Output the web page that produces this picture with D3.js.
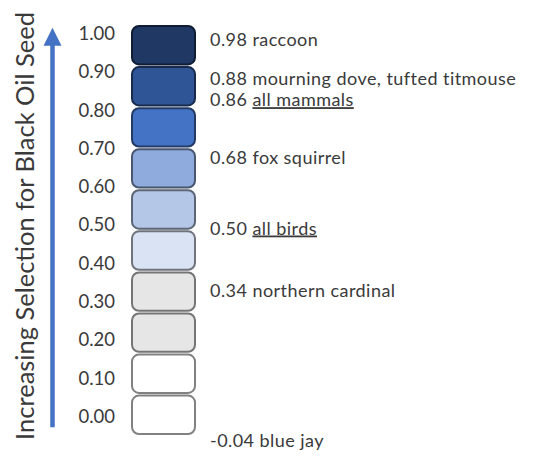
<!DOCTYPE html>
<html>
<head>
<meta charset="utf-8">
<script src="https://cdn.jsdelivr.net/npm/d3@7"></script>
<style>
  body { margin: 0; background: #fff; }
  svg { display: block; font-family: Lato, "Open Sans", sans-serif; }
</style>
</head>
<body>
<svg id="chart" width="536" height="458"></svg>
<script>
// colour bins, top to bottom (lower bound of each 0.1 bin)
const binLows = [0.9, 0.8, 0.7, 0.6, 0.5, 0.4, 0.3, 0.2, 0.1, 0.0];
const binColors = ["#1f3864", "#2f5597", "#4472c4", "#8faadc", "#b4c7e7",
                   "#dae3f3", "#e7e6e6", "#e7e6e6", "#ffffff", "#ffffff"];

// axis tick values
const tickValues = [0, 0.1, 0.2, 0.3, 0.4, 0.5, 0.6, 0.7, 0.8, 0.9, 1.0];

// species / group selection values
const labelValues = [0.98, 0.88, 0.86, 0.68, 0.50, 0.34, -0.04];
const labelNames = ["raccoon", "mourning dove, tufted titmouse", "all mammals",
                    "fox squirrel", "all birds", "northern cardinal", "blue jay"];
const labelUnderlined = [false, false, true, false, true, false, false];

const axisTitle = "Increasing Selection for Black Oil Seed";

const svg = d3.select("#chart");
const textColor = "#3a3a3a";

// scales
const yTick = d3.scaleLinear().domain([0, 1]).range([416.5, 33.5]);
const yBin = d3.scaleBand().domain(binLows).range([26, 434]).paddingInner(0.065);
const yLabel = d3.scaleLinear().domain([0, 1]).range([431, 38]);

const boxX = 132, boxW = 63;

// axis title
svg.append("text")
    .attr("transform", `translate(34, 226) rotate(-90)`)
    .attr("text-anchor", "middle")
    .attr("fill", textColor)
    .style("font-size", "25.5px")
    .text(axisTitle);

// arrow
const arrowX = 52.5;
const tipY = yTick(1.015), baseY = yTick(-0.028);
svg.append("line")
    .attr("x1", arrowX).attr("x2", arrowX)
    .attr("y1", baseY).attr("y2", tipY + 14)
    .attr("stroke", "#4472c4")
    .attr("stroke-width", 4.5);
svg.append("path")
    .attr("d", `M${arrowX},${tipY} L${arrowX - 9},${tipY + 18} L${arrowX + 9},${tipY + 18} Z`)
    .attr("fill", "#4472c4");

// tick labels
const axis = svg.append("g")
    .attr("transform", "translate(115,0)")
    .call(d3.axisLeft(yTick).tickValues(tickValues).tickFormat(d => d.toFixed(2))
        .tickSize(0).tickPadding(0));
axis.select(".domain").remove();
axis.selectAll("text")
    .attr("fill", textColor)
    .style("font-family", "Lato, sans-serif")
    .style("font-size", "18.5px");

// colour boxes
svg.append("g")
    .selectAll("rect")
    .data(binLows)
    .join("rect")
    .attr("x", boxX)
    .attr("y", d => yBin(d))
    .attr("width", boxW)
    .attr("height", yBin.bandwidth())
    .attr("rx", 7)
    .attr("fill", (d, i) => binColors[i])
    .attr("stroke", (d, i) => d3.color(binColors[i]).darker(1.9))
    .attr("stroke-width", 2);

// labels, nudged down so they don't overlap
const labels = labelValues.map((v, i) => ({
    value: v, name: labelNames[i], underline: labelUnderlined[i], y: yLabel(v)
}));
for (let i = 1; i < labels.length; i++) {
    if (labels[i].y - labels[i - 1].y < 21) labels[i].y = labels[i - 1].y + 21;
}

const lab = svg.append("g")
    .selectAll("text")
    .data(labels)
    .join("text")
    .attr("x", 210)
    .attr("y", d => d.y)
    .attr("fill", textColor)
    .style("font-size", "18px")
    .style("letter-spacing", "0.45px");
lab.append("tspan").text(d => d.value.toFixed(2) + " ");
lab.append("tspan")
    .style("text-decoration", d => d.underline ? "underline" : null)
    .text(d => d.name);
</script>
</body>
</html>
